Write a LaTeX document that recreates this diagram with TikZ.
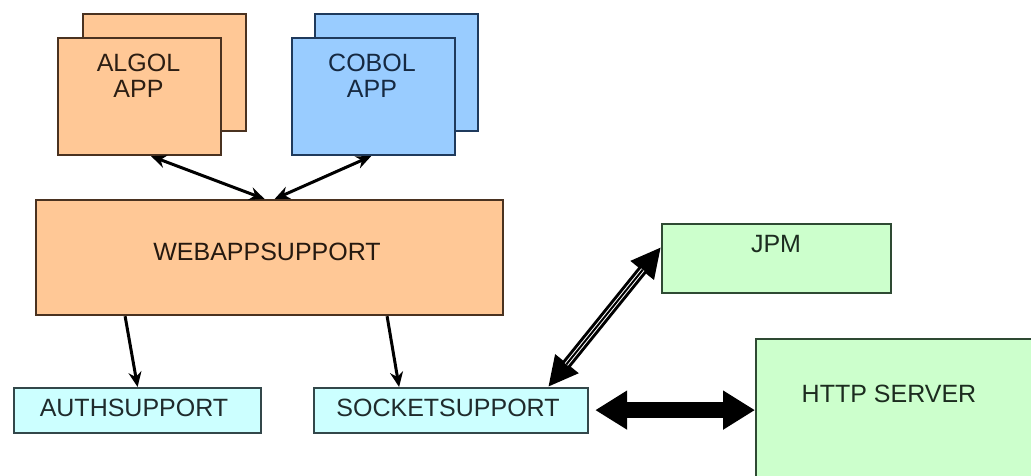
\documentclass[tikz,border=0pt]{standalone}
\usepackage{fontspec}
\setmainfont{Liberation Sans}
\usetikzlibrary{arrows.meta}

\definecolor{peach}{HTML}{FFC896}
\definecolor{peachline}{HTML}{4A3220}
\definecolor{skyblue}{HTML}{99CCFF}
\definecolor{skyline}{HTML}{1F3A5C}
\definecolor{mint}{HTML}{CCFFCC}
\definecolor{mintline}{HTML}{2E4A33}
\definecolor{ice}{HTML}{CCFFFF}
\definecolor{iceline}{HTML}{33474A}

\tikzset{
  box/.style={draw, line width=2.2pt, inner sep=0pt, anchor=north west},
  orangebox/.style={box, fill=peach, draw=peachline},
  bluebox/.style={box, fill=skyblue, draw=skyline},
  greenbox/.style={box, fill=mint, draw=mintline},
  cyanbox/.style={box, fill=ice, draw=iceline},
  txt/.style={inner sep=0pt, align=center, font=\fontsize{25}{26}\selectfont, anchor=north},
  link/.style={line width=3pt, {Stealth[length=15pt,width=13pt]}-{Stealth[length=15pt,width=13pt]}},
  down/.style={line width=3pt, -{Stealth[length=15pt,width=13pt]}},
}

\begin{document}
\begin{tikzpicture}[x=1pt,y=-1pt]
  \clip (0,0) rectangle (1031,476);
  \fill[white] (0,0) rectangle (1031,476);

  % application stacks
  \node[orangebox, minimum width=163pt, minimum height=117pt] (algolback) at (82,13) {};
  \node[orangebox, minimum width=163pt, minimum height=117pt] (algol) at (57,37) {};
  \node[txt, text=peachline!60!black] (algoltxt) at (138.5,54) {ALGOL\\APP};

  \node[bluebox, minimum width=163pt, minimum height=117pt] (cobolback) at (314,13) {};
  \node[bluebox, minimum width=163pt, minimum height=117pt] (cobol) at (291,37) {};
  \node[txt, text=skyline!70!black] (coboltxt) at (372,54) {COBOL\\APP};

  % support layer
  \node[orangebox, minimum width=467pt, minimum height=115pt] (web) at (35,199) {};
  \node[txt, text=peachline!50!black] (webtxt) at (267,243) {WEBAPPSUPPORT};

  \node[cyanbox, minimum width=247pt, minimum height=45pt] (auth) at (13,387) {};
  \node[txt, text=iceline!60!black] (authtxt) at (134,399) {AUTHSUPPORT};

  \node[cyanbox, minimum width=274pt, minimum height=45pt] (socket) at (313,387) {};
  \node[txt, text=iceline!60!black] (sockettxt) at (448,399) {SOCKETSUPPORT};

  % external side
  \node[greenbox, minimum width=229pt, minimum height=69pt] (jpm) at (661,223) {};
  \node[txt, text=mintline!60!black] (jpmtxt) at (776,235) {JPM};

  \node[greenbox, minimum width=290pt, minimum height=160pt] (http) at (755,338) {};
  \node[txt, text=mintline!60!black] (httptxt) at (889,385) {HTTP SERVER};

  % connectors
  \draw[link] ([xshift=11.5pt]algol.south) -- ([xshift=-5pt]web.north);
  \draw[link] ([xshift=-2.5pt]cobol.south) -- ([xshift=5pt]web.north);
  \draw[down] ([xshift=-144.5pt]web.south) -- (auth.north);
  \draw[down] ([xshift=117.5pt]web.south) -- ([xshift=-52pt]socket.north);

  % striped two-way link to JPM
  \coordinate (sj) at ([xshift=97pt]socket.north);
  \coordinate (js) at ([yshift=11.5pt]jpm.west);
  \draw[line width=10pt, {Triangle[length=30pt,width=28pt]}-{Triangle[length=30pt,width=28pt]}] (sj) -- (js);
  \draw[line width=1pt, white, double=black, double distance=2pt,
        shorten <=29pt, shorten >=29pt] (sj) -- (js);

  % heavy two-way link to the HTTP server
  \draw[line width=16pt, {Triangle[length=32pt,width=37pt]}-{Triangle[length=32pt,width=37pt]}]
    ([xshift=6pt,yshift=0.5pt]socket.east) -- ([yshift=0.5pt]socket.east -| http.west);
\end{tikzpicture}
\end{document}
